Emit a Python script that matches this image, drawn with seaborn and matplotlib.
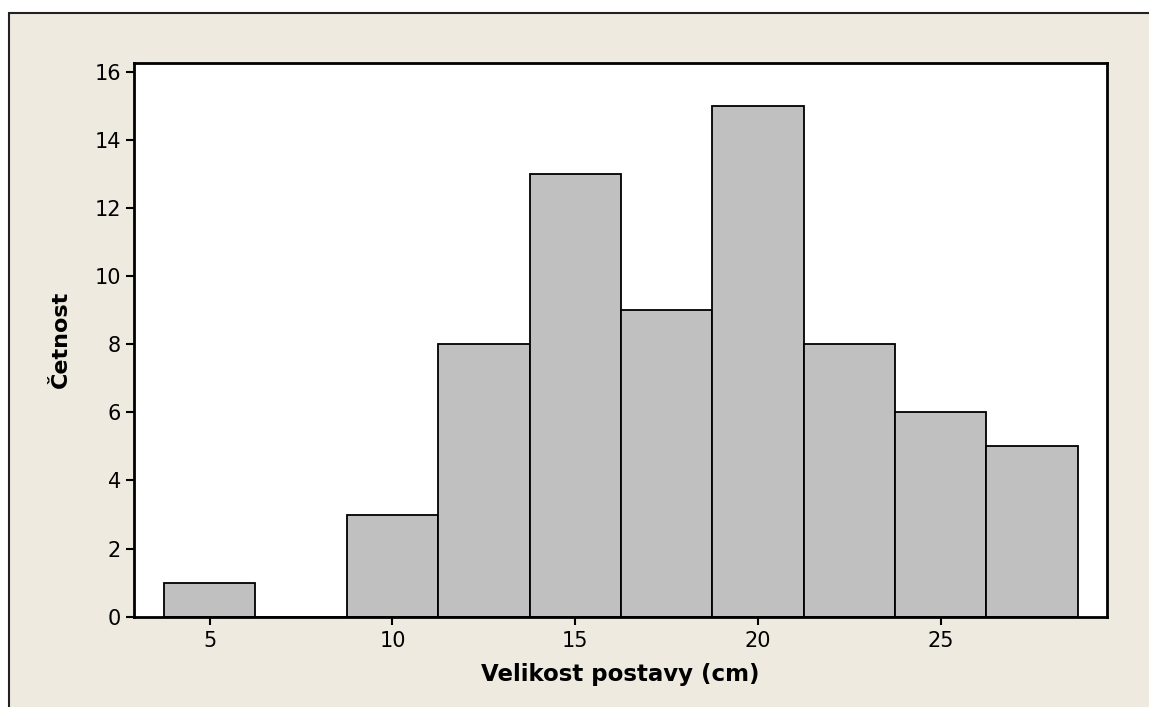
import matplotlib
matplotlib.use("Agg")
import matplotlib.pyplot as plt
from matplotlib.patches import Rectangle
import numpy as np
import seaborn as sns

# Histogram of figure heights, bins of 2.5 cm
bin_centers = [5.0, 7.5, 10.0, 12.5, 15.0, 17.5, 20.0, 22.5, 25.0, 27.5]
counts = [1, 0, 3, 8, 13, 9, 15, 8, 6, 5]
bin_width = 2.5
x_ticks = [5, 10, 15, 20, 25]
y_ticks = [0, 2, 4, 6, 8, 10, 12, 14, 16]

sns.set_theme(style="white")
plt.rcParams["font.family"] = ["DejaVu Sans"]
plt.rcParams["text.color"] = "black"
plt.rcParams["axes.labelcolor"] = "black"

W, H = 1149, 707
fig = plt.figure(figsize=(W / 100, H / 100), dpi=100, facecolor="white")

# Beige graph panel with a thin dark frame (runs off the right and bottom edges)
panel = Rectangle((9 / W, -0.05), 1.2, 1 - 13 / H + 0.05, transform=fig.transFigure,
                  facecolor="#EEEAE0", edgecolor="#222222", linewidth=1.5, zorder=-5)
fig.patches.append(panel)

ax = fig.add_axes([133.5 / W, 1 - 616.7 / H, (1106.7 - 133.5) / W, (616.7 - 62.7) / H])
ax.set_facecolor("white")

edges = [bin_centers[0] - bin_width / 2 + i * bin_width for i in range(len(bin_centers) + 1)]
sns.histplot(x=bin_centers, weights=counts, bins=edges, ax=ax,
             color="#C0C0C0", alpha=1.0, edgecolor="black", linewidth=1.3)

ax.set_xlim(2.915, 29.54)
ax.set_ylim(0, 16.27)
ax.set_xticks(x_ticks)
ax.set_yticks(y_ticks)
ax.tick_params(axis="both", which="major", direction="out", length=6, width=1.5,
               color="black", labelsize=15, labelcolor="black", pad=3,
               bottom=True, left=True)
ax.tick_params(axis="x", pad=4)

for s in ax.spines.values():
    s.set_color("black")
    s.set_linewidth(2)

ax.set_xlabel("Velikost postavy (cm)", fontsize=16.5, fontweight="bold",
              color="black", labelpad=9)
ax.set_ylabel("Četnost", fontsize=16, fontweight="bold", color="black", labelpad=17)

fig.savefig("out.png", dpi=100, facecolor="white")
